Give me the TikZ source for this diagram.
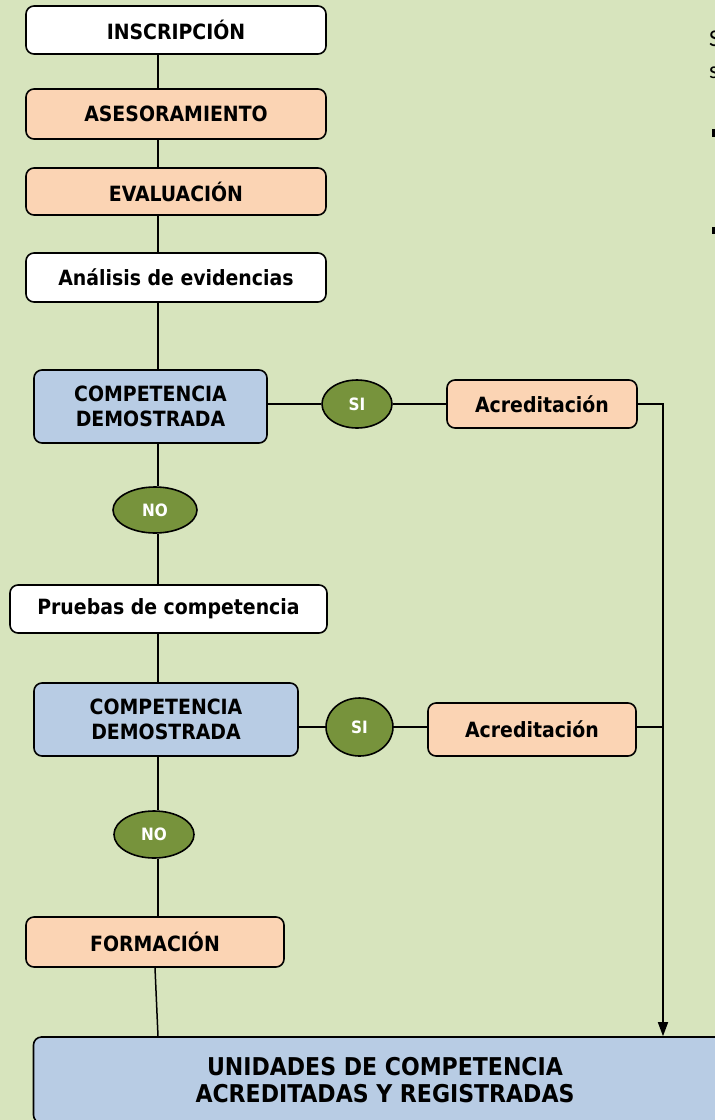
\documentclass[tikz,border=0pt]{standalone}
\usepackage{fontspec}
\setmainfont{DejaVu Sans}
\newfontfamily\condfont{DejaVu Sans Condensed}
\newfontfamily\bodyfont{Carlito}
\usetikzlibrary{shapes.geometric,arrows.meta,calc}
\definecolor{bgc}{HTML}{D7E4BD}
\definecolor{peach}{HTML}{FBD4B4}
\definecolor{bluec}{HTML}{B8CCE4}
\definecolor{greenc}{HTML}{77933C}
\tikzset{
  x=1pt,y=-1pt,
  box/.style={draw=black,line width=1.6pt,rounded corners=8pt,rectangle,align=center,
    font=\condfont\bfseries\fontsize{21}{25}\selectfont,inner sep=0pt},
  whitebox/.style={box,fill=white},
  peachbox/.style={box,fill=peach},
  bluebox/.style={box,fill=bluec},
  answer/.style={draw=black,line width=1.6pt,ellipse,fill=greenc,text=white,inner sep=0pt,
    font=\condfont\bfseries\fontsize{17}{19}\selectfont},
  link/.style={line width=1.5pt,draw=black},
}
\begin{document}
\begin{tikzpicture}
\useasboundingbox (0,0) rectangle (715,1120);
\clip (0,0) rectangle (715,1120);
\fill[bgc] (-5,-5) rectangle (720,1125);

\coordinate (spine) at (158,0);
\coordinate (rail) at (663,0);

\node[whitebox,minimum width=300pt,minimum height=48pt] (insc) at (176,30) {INSCRIPCIÓN};
\node[peachbox,minimum width=300pt,minimum height=50pt] (ases) at (176,114) {ASESORAMIENTO};
\node[peachbox,minimum width=300pt,minimum height=47pt] (eval) at (176,191.5) {EVALUACIÓN};
\node[whitebox,minimum width=300pt,minimum height=49pt] (anal) at (176,277.5) {Análisis de evidencias};

\node[bluebox,minimum width=233pt,minimum height=73pt] (cd1) at (150.5,406.5) {COMPETENCIA\\DEMOSTRADA};
\node[answer,minimum width=70pt,minimum height=48pt] (si1) at (357,404) {SI};
\node[peachbox,minimum width=190pt,minimum height=48pt] (acr1) at (542,404) {Acreditación};
\node[answer,minimum width=84pt,minimum height=46pt] (no1) at (155,510) {NO};

\node[whitebox,minimum width=317pt,minimum height=48pt] (prue) at (168.5,609) {Pruebas de competencia};

\node[bluebox,minimum width=264pt,minimum height=73pt] (cd2) at (166,719.5) {COMPETENCIA\\DEMOSTRADA};
\node[answer,minimum width=67pt,minimum height=58pt] (si2) at (359.5,727) {SI};
\node[peachbox,minimum width=208pt,minimum height=53pt] (acr2) at (532,729.5) {Acreditación};
\node[answer,minimum width=80pt,minimum height=47pt] (no2) at (154,834.5) {NO};

\node[peachbox,minimum width=258pt,minimum height=50pt] (form) at (155,942) {FORMACIÓN};

\node[bluebox,minimum width=703pt,minimum height=86pt,font=\condfont\bfseries\fontsize{24.5}{27}\selectfont] (unid) at (385,1080) {UNIDADES DE COMPETENCIA\\ACREDITADAS Y REGISTRADAS};

% vertical spine
\draw[link] (insc.south -| spine) -- (ases.north -| spine);
\draw[link] (ases.south -| spine) -- (eval.north -| spine);
\draw[link] (eval.south -| spine) -- (anal.north -| spine);
\draw[link] (anal.south -| spine) -- (cd1.north -| spine);
\draw[link] (cd1.south -| spine) -- (no1.north -| spine);
\draw[link] (no1.south -| spine) -- (prue.north -| spine);
\draw[link] (prue.south -| spine) -- (cd2.north -| spine);
\draw[link] (cd2.south -| spine) -- (no2.north -| spine);
\draw[link] (no2.south -| spine) -- (form.north -| spine);
\draw[link] (form.south) -- (unid.north -| spine);

% SI branches
\draw[link] (cd1.east |- si1) -- (si1.west);
\draw[link] (si1.east) -- (acr1.west |- si1);
\draw[link] (cd2.east |- si2) -- (si2.west);
\draw[link] (si2.east) -- (acr2.west |- si2);

% right rail
\draw[link,-{Triangle[length=14pt,width=10pt]}] (acr1.east) -- (acr1.east -| rail) -- (unid.north -| rail);
\draw[link] (acr2.east |- si2) -- (si2 -| rail);

% cut-off text at top right
\node[anchor=base west,inner sep=0pt,font=\bodyfont\fontsize{24}{28}\selectfont] (t1) at (709,46) {S};
\node[anchor=base west,inner sep=0pt,font=\bodyfont\fontsize{24}{28}\selectfont] (t2) at (709,78) {s};
\fill[black] (712,129) rectangle (718,137);
\fill[black] (712,227) rectangle (718,234);
\end{tikzpicture}
\end{document}
